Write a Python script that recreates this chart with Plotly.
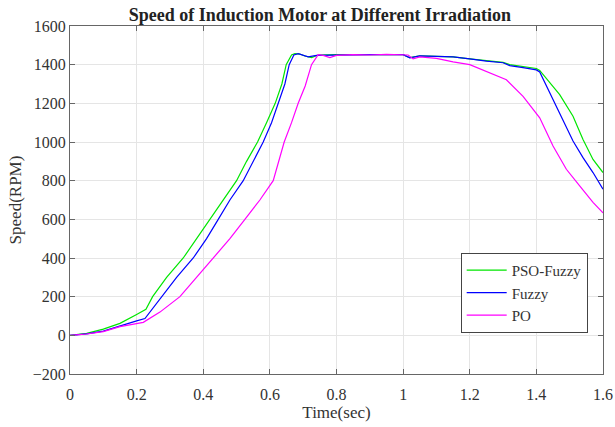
import plotly.graph_objects as go

# PSO-Fuzzy controller
t_pso = [0, 0.05, 0.1, 0.15, 0.2, 0.228, 0.248, 0.29, 0.34, 0.38, 0.42, 0.46, 0.50, 0.53,
         0.563, 0.59, 0.616, 0.636, 0.649, 0.665, 0.675, 0.69, 0.705, 0.725, 0.745, 0.8,
         0.9, 1.0, 1.02, 1.05, 1.1, 1.15, 1.2, 1.25, 1.3, 1.32, 1.36, 1.4, 1.41, 1.44,
         1.47, 1.51, 1.54, 1.57, 1.6]
speed_pso = [0, 10, 32, 62, 108, 135, 200, 300, 400, 500, 600, 700, 800, 900,
             1000, 1100, 1200, 1300, 1400, 1450, 1457, 1455, 1445, 1437, 1450, 1452,
             1452, 1452, 1436, 1445, 1443, 1440, 1430, 1420, 1412, 1400, 1390, 1380, 1370, 1305,
             1245, 1133, 1013, 910, 842]

# Fuzzy controller
t_fuzzy = [0, 0.05, 0.1, 0.15, 0.2, 0.225, 0.275, 0.32, 0.37, 0.41, 0.445, 0.48, 0.52, 0.55,
           0.58, 0.605, 0.625, 0.645, 0.658, 0.672, 0.685, 0.7, 0.715, 0.74, 0.8,
           0.9, 1.0, 1.02, 1.05, 1.1, 1.15, 1.2, 1.25, 1.3, 1.32, 1.36, 1.4, 1.41, 1.44,
           1.47, 1.51, 1.54, 1.57, 1.6]
speed_fuzzy = [0, 8, 22, 50, 75, 87, 200, 300, 400, 500, 600, 700, 800, 900,
               1000, 1100, 1200, 1300, 1400, 1450, 1457, 1448, 1440, 1448, 1450,
               1452, 1452, 1435, 1445, 1442, 1440, 1430, 1418, 1410, 1395, 1385, 1373, 1362, 1253,
               1150, 1005, 919, 842, 756]

# PO controller
t_po = [0, 0.05, 0.1, 0.15, 0.22, 0.27, 0.33, 0.38, 0.43, 0.48, 0.525, 0.57, 0.61, 0.643,
        0.665, 0.685, 0.706, 0.725, 0.745, 0.76, 0.78, 0.8, 0.85, 0.9, 0.95, 1.0,
        1.015, 1.03, 1.05, 1.1, 1.15, 1.2, 1.25, 1.31, 1.36, 1.41, 1.45, 1.49, 1.53,
        1.57, 1.6]
speed_po = [0, 7, 19, 45, 67, 120, 200, 300, 400, 500, 600, 700, 800, 1000,
            1100, 1200, 1290, 1400, 1452, 1448, 1437, 1448, 1452, 1450, 1453, 1452,
            1450, 1430, 1440, 1433, 1414, 1400, 1365, 1322, 1236, 1125, 979, 859, 773,
            688, 633]

x_ticks = [0, 0.2, 0.4, 0.6, 0.8, 1, 1.2, 1.4, 1.6]
x_labels = ["0", "0.2", "0.4", "0.6", "0.8", "1", "1.2", "1.4", "1.6"]
y_ticks = [-200, 0, 200, 400, 600, 800, 1000, 1200, 1400, 1600]

serif = "Liberation Serif, Times New Roman, serif"

fig = go.Figure()
fig.add_trace(go.Scatter(x=t_pso, y=speed_pso, mode="lines", name="PSO-Fuzzy",
                         line=dict(color="#00e600", width=1.2)))
fig.add_trace(go.Scatter(x=t_fuzzy, y=speed_fuzzy, mode="lines", name="Fuzzy",
                         line=dict(color="#0000ff", width=1.2)))
fig.add_trace(go.Scatter(x=t_po, y=speed_po, mode="lines", name="PO",
                         line=dict(color="#ff00ff", width=1.2)))

axis_style = dict(showline=True, linecolor="#666666", linewidth=1, mirror="ticks",
                  ticks="inside", ticklen=5, tickcolor="#666666", automargin=False,
                  showgrid=True, gridcolor="#e5e5e5", gridwidth=1, zeroline=False,
                  tickfont=dict(family=serif, size=16, color="#333333"))

fig.update_xaxes(range=[0, 1.6], tickvals=x_ticks, ticktext=x_labels, ticklabelstandoff=6,
                 title=dict(text="Time(sec)", font=dict(family=serif, size=17, color="#333333"),
                            standoff=2),
                 **axis_style)
fig.update_yaxes(range=[-200, 1600], tickvals=y_ticks,
                 title=dict(text="Speed(RPM)", font=dict(family=serif, size=17, color="#333333"),
                            standoff=6),
                 **axis_style)

fig.update_layout(
    width=615, height=427,
    margin=dict(l=70, r=12, t=26, b=53),
    plot_bgcolor="white", paper_bgcolor="white",
    title=dict(text="<b>Speed of Induction Motor at Different Irradiation</b>",
               font=dict(family=serif, size=18, color="#222222"),
               x=0.52, xanchor="center", y=0.965, yanchor="middle"),
    legend=dict(x=0.733, y=0.348, xanchor="left", yanchor="top",
                bgcolor="white", bordercolor="#444444", borderwidth=1,
                font=dict(family=serif, size=15, color="#333333"),
                tracegroupgap=0, itemwidth=40),
    showlegend=True,
)

# drop the default 8px page margin so the figure sits at the window's corner
fig.write_html("out.html", config={"displayModeBar": False},
               post_script="document.body.style.margin='0';")
